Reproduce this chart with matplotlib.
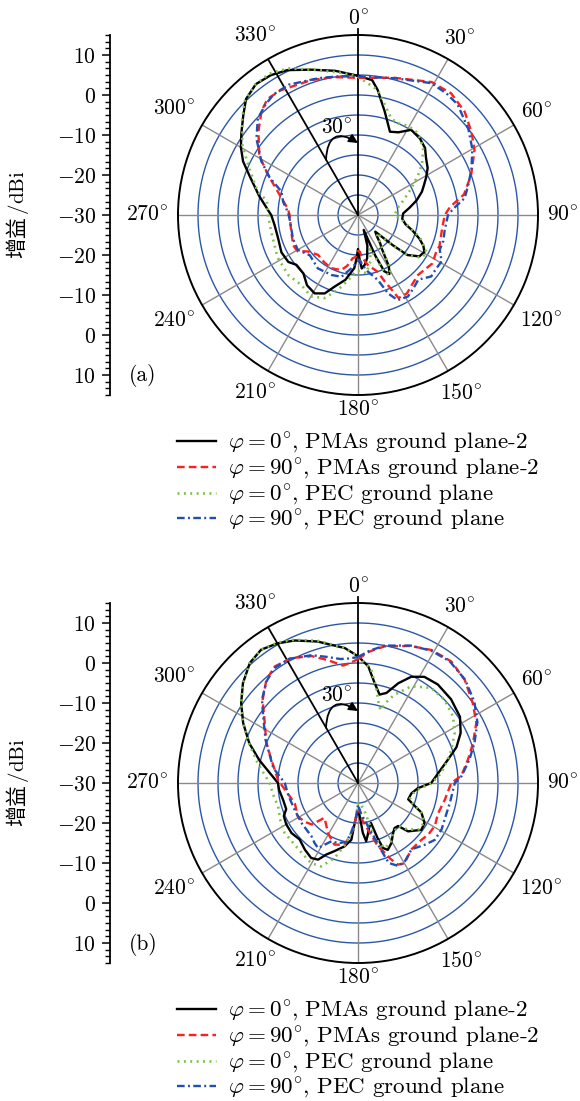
import numpy as np
import matplotlib.pyplot as plt
from matplotlib.ticker import FixedLocator, MultipleLocator

plt.rcParams['font.family'] = ['cmr10', 'DejaVu Sans']
plt.rcParams['mathtext.fontset'] = 'cm'
plt.rcParams['axes.formatter.use_mathtext'] = True
plt.rcParams['lines.scale_dashes'] = False

# ---- panel (a): angles in degrees (clockwise from top), gain in dBi ----
theta_a_pma0 = [0, 6, 9, 14.5, 21, 26, 32, 39, 45, 50,
                56, 61, 66, 70, 76, 82, 88, 95, 101, 106,
                111, 115, 119, 124, 129, 131, 134, 138, 142, 145,
                149, 152, 155, 157, 159, 163, 168, 172, 176, 178,
                180, 182, 184, 187, 191, 198, 203, 209, 216, 223,
                231, 236, 244, 254, 263, 270, 273, 281, 290, 295,
                300, 305, 311, 316, 322, 328, 334, 342, 351, 360]
gain_a_pma0 = [4.8, 3.9, 1.6, -3.3, -7.7, -7.0, -4.9, -5.4, -6.3, -7.8,
               -9.0, -10.5, -12.0, -13.0, -14.9, -17.0, -18.7, -18.9, -17.9, -15.8,
               -13.6, -12.0, -11.0, -11.5, -14.1, -18.5, -24.0, -23.0, -21.0, -19.5,
               -15.0, -13.3, -14.5, -19.0, -26.0, -22.0, -19.0, -17.5, -16.6, -19.0,
               -21.5, -19.0, -16.7, -15.5, -13.5, -11.2, -8.7, -7.6, -8.3, -10.0,
               -10.2, -9.0, -8.7, -9.2, -9.0, -8.3, -7.5, -4.8, -1.1, 1.7,
               3.8, 5.6, 8.0, 10.3, 11.5, 11.2, 10.3, 8.2, 6.5, 4.8]

theta_a_pma90 = [0, 15, 29, 37.5, 46, 54, 61, 70.5, 79, 85,
                 90, 98, 104, 111, 115, 123, 130, 135, 142, 148,
                 154, 156, 158, 161, 169, 175, 177, 180, 183, 187,
                 192, 197, 207, 216, 225, 234, 239, 245, 259, 270,
                 275, 286, 294, 301, 310, 317, 322, 328, 341, 350,
                 360]
gain_a_pma90 = [4.3, 5.5, 8.0, 8.3, 7.1, 5.1, 3.3, 0.0, -3.0, -6.9,
                -8.3, -8.7, -8.6, -8.2, -8.4, -7.8, -8.5, -8.8, -8.0, -6.9,
                -6.9, -9.9, -12.0, -15.0, -17.3, -19.5, -20.8, -21.0, -19.5, -19.1,
                -17.0, -15.6, -15.1, -15.5, -15.9, -14.5, -12.4, -12.1, -12.9, -12.9,
                -12.4, -9.2, -5.4, -1.2, 2.5, 5.4, 6.8, 6.7, 5.7, 5.0,
                4.3]

theta_a_pec0 = [0, 9, 15, 19, 23.6, 28, 33.7, 39, 44.3, 50,
                55, 63.4, 72, 80, 90, 98, 104, 110, 119, 124,
                129, 131, 134, 138, 145, 149, 152, 155, 157, 160,
                165, 172, 178, 182, 186, 195, 202, 210, 219, 229,
                242, 259, 270, 279, 283, 293, 301, 309, 315, 321.6,
                328, 334.5, 344.6, 354.6, 360]
gain_a_pec0 = [4.6, 1.6, -2.4, -4.5, -5.0, -4.6, -4.4, -5.3, -6.7, -9.0,
               -11.2, -15.1, -18.0, -20.0, -20.8, -18.5, -16.5, -13.5, -10.3, -11.0,
               -14.0, -18.0, -23.5, -22.5, -19.0, -14.5, -13.0, -14.0, -17.5, -21.0,
               -18.0, -15.3, -16.0, -16.0, -14.5, -10.6, -7.6, -6.5, -7.5, -7.0,
               -7.25, -7.9, -7.5, -6.9, -4.3, -0.5, 3.7, 7.3, 10.1, 11.5,
               11.7, 10.6, 7.6, 5.6, 4.6]

theta_a_pec90 = [0, 15, 29, 36, 42, 52, 60, 68, 75, 81,
                 86, 90, 100, 107, 113, 119, 125, 130, 137, 143,
                 148.5, 155, 159, 163, 170, 175, 178, 182, 187, 195,
                 204, 217, 230, 240, 250, 266, 272, 280, 287, 293,
                 299, 307, 314, 320, 325, 332, 344, 352, 360]
gain_a_pec90 = [4.6, 5.4, 7.7, 7.6, 7.2, 5.0, 3.0, 0.6, -1.5, -3.0,
                -6.0, -7.5, -8.0, -7.7, -7.8, -6.1, -6.3, -6.1, -7.9, -7.0,
                -6.1, -6.5, -9.0, -13.0, -15.6, -17.5, -18.8, -18.0, -16.6, -14.0,
                -13.6, -13.3, -14.3, -12.6, -12.7, -12.9, -12.5, -11.0, -10.0, -6.0,
                -2.4, 1.8, 4.8, 6.0, 6.8, 6.9, 5.6, 5.0, 4.6]

# ---- panel (b) ----
theta_b_pma0 = [0, 5, 9.5, 13.7, 17.5, 22, 26.6, 32, 39, 48,
                57, 64, 70, 75.5, 83, 90, 95, 101, 108, 112,
                115, 121, 126.5, 134, 137, 141, 145, 151, 156, 159,
                160.5, 162, 166, 169, 172, 174.5, 177, 180, 184.7, 186.7,
                192, 199, 204, 207.5, 212, 218.6, 226, 233, 240, 246,
                250, 257.5, 265, 270, 276.5, 283, 290, 297.6, 304.4, 311,
                318, 324, 330, 336, 344, 354.4, 360]
gain_b_pma0 = [1.7, -0.7, -4.7, -7.25, -6.4, -3.1, -0.3, 1.3, 1.7, 1.3,
               0.4, -1.45, -3.8, -6.8, -9.8, -11.7, -15.0, -16.4, -16.8, -14.7,
               -12.5, -10.6, -10.3, -12.6, -15.3, -15.5, -14.7, -12.8, -11.7, -12.6,
               -15.5, -19.5, -18.5, -17.0, -15.3, -17.5, -21.7, -23.3, -20.0, -15.7,
               -13.8, -12.0, -10.4, -8.4, -7.9, -8.7, -9.7, -9.2, -9.3, -9.7,
               -10.9, -10.8, -10.2, -10.0, -7.8, -4.7, -1.1, 2.4, 5.4, 8.1,
               10.4, 11.2, 10.3, 9.0, 6.8, 3.9, 1.7]

theta_b_pma90 = [0, 5, 11, 21, 29, 37.5, 46, 55, 63, 71,
                 78, 86, 90, 101, 111, 119, 126, 132, 141, 150,
                 154, 157, 159, 162.5, 168, 173, 176.5, 180, 183, 186,
                 192, 201, 211, 218, 224, 228, 234, 241, 252, 263,
                 272, 285, 293.6, 304, 311, 318.4, 324.5, 332, 340, 346,
                 352.7, 356, 360]
gain_b_pma90 = [1.0, 3.0, 4.8, 6.7, 8.0, 8.3, 7.1, 5.0, 3.2, 0.4,
                -1.9, -4.1, -6.7, -7.9, -8.6, -8.0, -8.2, -8.7, -8.7, -6.8,
                -7.3, -9.5, -11.3, -13.4, -18.1, -20.5, -23.3, -23.0, -21.7, -18.3,
                -14.2, -13.5, -15.4, -17.0, -17.9, -14.5, -13.5, -12.8, -13.4, -12.0,
                -10.0, -7.6, -5.0, -1.8, 1.6, 4.5, 5.8, 5.4, 3.75, 1.7,
                -0.4, 0.0, 1.0]

theta_b_pec0 = [0, 6.7, 11.2, 14, 17, 20, 22.5, 28.8, 37.6, 46,
                55, 62.7, 70.3, 76, 83, 90, 95, 101, 108, 112,
                115, 121, 127, 133, 137, 145, 151, 157.7, 163, 166,
                168, 173, 177, 180, 183, 186, 191.9, 197.3, 203.8, 210.3,
                218, 225.8, 235.7, 245, 253.7, 262, 270, 281, 290, 297.6,
                304.4, 311, 318, 324, 330, 336, 344, 354, 360]
gain_b_pec0 = [1.7, -1.5, -6.2, -9.0, -10.9, -8.0, -6.1, -2.4, 0.0, 0.0,
               -1.0, -2.8, -5.2, -7.0, -9.0, -11.5, -14.5, -16.0, -16.5, -14.5,
               -12.5, -10.8, -10.8, -12.9, -15.3, -14.7, -13.0, -12.4, -15.6, -22.0,
               -23.5, -24.5, -25.0, -25.0, -21.5, -18.3, -14.2, -10.4, -7.2, -6.8,
               -7.5, -7.9, -7.8, -8.5, -9.2, -8.6, -7.9, -4.5, -1.0, 2.4,
               5.4, 8.1, 10.4, 11.2, 10.5, 9.2, 7.0, 4.0, 1.7]

theta_b_pec90 = [0, 5, 11, 21, 29, 37, 46, 55, 63, 71,
                 78, 86, 90, 102, 113, 119, 126.5, 133, 141, 149,
                 154, 159, 161, 167, 175, 180, 184, 188, 191, 198,
                 204.5, 211.6, 216, 221, 235, 247, 260, 270, 280, 287,
                 295, 304, 311, 318, 324, 331, 340, 346, 352, 356,
                 360]
gain_b_pec90 = [1.5, 3.2, 5.0, 6.8, 7.8, 8.1, 7.2, 5.5, 3.5, 0.8,
                -1.5, -4.0, -5.8, -6.5, -6.5, -6.1, -6.1, -7.3, -8.7, -7.2,
                -6.9, -8.6, -12.3, -18.9, -22.5, -24.6, -20.5, -17.4, -15.0, -14.2,
                -14.0, -10.9, -11.5, -12.3, -12.7, -12.8, -12.3, -11.7, -8.5, -7.0,
                -4.5, -1.5, 1.8, 4.2, 5.5, 5.5, 4.0, 2.5, 1.3, 1.2,
                1.5]

legend_labels = [r'$\varphi=0^{\!\circ}\!,\,$PMAs ground plane-2',
                 r'$\varphi=90^{\!\circ}\!,\,$PMAs ground plane-2',
                 r'$\varphi=0^{\!\circ}\!,\,$PEC ground plane',
                 r'$\varphi=90^{\!\circ}\!,\,$PEC ground plane']
angle_labels = [0, 30, 60, 90, 120, 150, 180, 210, 240, 270, 300, 330]
side_ticks = [40, 30, 20, 10, 0, -10, -20, -30, -40]
side_labels = [10, 0, -10, -20, -30, -20, -10, 0, 10]

RMIN, RMAX = -30, 15
W, H = 580, 1101
FS = 15.5
styles = [dict(color='k', lw=1.7, ls='-'),
          dict(color='#ff1f1f', lw=1.7, dashes=(5.5, 3.0)),
          dict(color='#7cc242', lw=1.9, dashes=(1.4, 3.2)),
          dict(color='#1f4fb4', lw=1.7, dashes=(5.5, 2.4, 1.4, 2.4))]
ring_color = '#2b57a8'
spoke_color = '#8a8a8a'

fig = plt.figure(figsize=(W / 100, H / 100), dpi=100)


def draw_panel(cy, curves, tag):
    # polar axes: centre at (358, cy) px, outer circle radius 180 px
    ax = fig.add_axes([178 / W, 1 - (cy + 180) / H, 360 / W, 360 / H],
                      projection='polar')
    ax.set_theta_zero_location('N')
    ax.set_theta_direction(-1)
    ax.set_ylim(RMIN, RMAX)
    ax.grid(False)
    ax.set_yticks([])
    ax.set_xticks(np.deg2rad(np.arange(0, 360, 15)))
    ax.set_xticklabels([])
    ax.tick_params(axis='x', direction='in', length=5, width=1.0, colors='k')
    ax.spines['polar'].set_linewidth(1.4)

    ring_t = np.linspace(0, 2 * np.pi, 721)
    for r in range(-25, 11, 5):
        ax.plot(ring_t, np.full_like(ring_t, r), color=ring_color, lw=1.0, zorder=1)
    for a in angle_labels:
        t = np.deg2rad(a)
        if a == 0:
            ax.plot([t, t], [RMIN, 16.6], color='k', lw=1.3, zorder=2, clip_on=False)
        elif a == 330:
            ax.plot([t, t], [RMIN, RMAX], color='k', lw=1.3, zorder=2)
        else:
            ax.plot([t, t], [RMIN, RMAX], color=spoke_color, lw=1.0, zorder=1)

    for a in angle_labels:
        t = np.deg2rad(a)
        w = 13 * len(str(a)) + 7
        d = 188 + 0.5 * (w * abs(np.sin(t)) + 15 * abs(np.cos(t)))
        ax.text(t, RMIN + d / 4, r'$%d^{\!\circ}$' % a, ha='center', va='center',
                fontsize=FS)

    handles = []
    for (th, g), st in zip(curves, styles):
        ln, = ax.plot(np.deg2rad(th), g, zorder=3, **st)
        handles.append(ln)

    # 30 degree tilt marker between the 330 and 0 degree lines
    ax.annotate('', xy=(0, -12), xytext=(np.deg2rad(330), -14),
                arrowprops=dict(arrowstyle='-|>', connectionstyle='arc3,rad=-0.85',
                                color='k', lw=1.3, shrinkA=0, shrinkB=0,
                                mutation_scale=13), zorder=4)
    ax.text(np.deg2rad(346.5), -7.6, r'$30^{\!\circ}$', ha='center', va='center',
            fontsize=FS)

    # side gain scale
    sx = fig.add_axes([110 / W, 1 - (cy + 180) / H, 0.0001, 360 / H])
    sx.set_ylim(-45, 45)
    for s in ('top', 'right', 'bottom'):
        sx.spines[s].set_visible(False)
    sx.spines['left'].set_linewidth(1.3)
    sx.set_xticks([])
    sx.yaxis.set_major_locator(FixedLocator(side_ticks))
    sx.yaxis.set_minor_locator(MultipleLocator(10 / 6))
    sx.set_yticklabels([r'$%d$' % v for v in side_labels])
    sx.tick_params(axis='y', which='major', length=6, width=1.1, labelsize=FS, pad=4)
    sx.tick_params(axis='y', which='minor', length=3.5, width=1.0)

    fig.text(18 / W, 1 - cy / H, '增益$\\,/\\mathrm{dBi}$', rotation=90,
             ha='center', va='center', fontsize=15,
             family=['Noto Sans CJK SC', 'DejaVu Sans'])
    fig.text(143 / W, 1 - (cy + 161) / H, tag, ha='center', va='center', fontsize=FS)

    fig.legend(handles, legend_labels, loc='upper left',
               bbox_to_anchor=(177 / W, 1 - (cy + 216) / H), frameon=False,
               fontsize=16.6, handlelength=1.7, handletextpad=0.5,
               labelspacing=0.03, borderpad=0, borderaxespad=0)


draw_panel(215, [(theta_a_pma0, gain_a_pma0), (theta_a_pma90, gain_a_pma90),
                 (theta_a_pec0, gain_a_pec0), (theta_a_pec90, gain_a_pec90)], '(a)')
draw_panel(783, [(theta_b_pma0, gain_b_pma0), (theta_b_pma90, gain_b_pma90),
                 (theta_b_pec0, gain_b_pec0), (theta_b_pec90, gain_b_pec90)], '(b)')

fig.savefig('out.png', dpi=100, facecolor='white')
